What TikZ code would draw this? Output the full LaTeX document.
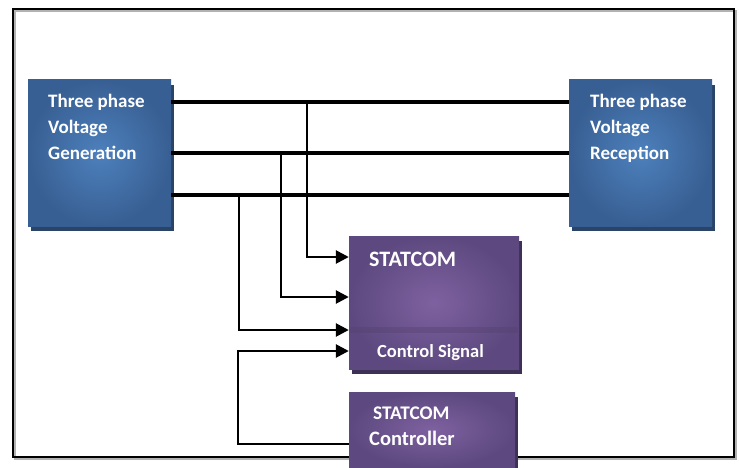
\documentclass[tikz,border=0pt]{standalone}
\usepackage{fontspec}
\setmainfont{Carlito}
\usetikzlibrary{arrows.meta,shadows}
\definecolor{bOut}{HTML}{385F93}
\definecolor{bIn}{HTML}{4D80BC}
\definecolor{bShadow}{HTML}{2A4468}
\definecolor{pOut}{HTML}{5D497F}
\definecolor{pIn}{HTML}{7E61A0}
\definecolor{pShadow}{HTML}{3E3158}
\definecolor{pBand}{HTML}{54416F}
\begin{document}
\begin{tikzpicture}[x=1pt,y=-1pt,
  bluebox/.style={rectangle, inner sep=0pt, minimum width=143pt, minimum height=146pt,
    shading=radial, inner color=bIn, outer color=bOut,
    general shadow={shadow xshift=3pt, shadow yshift=-5pt, fill=bShadow}},
  purplebox/.style={rectangle, inner sep=0pt,
    shading=radial, inner color=pIn, outer color=pOut,
    general shadow={shadow xshift=3pt, shadow yshift=-5pt, fill=pShadow}},
  lbl/.style={anchor=base west, inner sep=0pt, text=white, font=\bfseries\fontsize{19}{21}\selectfont},
  wire/.style={line width=3.6pt, black},
  tap/.style={line width=2.6pt, black, -{Triangle[length=13pt,width=13pt]}},
]
\useasboundingbox (0,0) rectangle (739,468);
% outer frame
\draw[line width=1.2pt, gray!60] (15,11) rectangle (736,459);
\draw[line width=1.6pt, black] (13,9) rectangle (734,457);

% boxes
\node[bluebox] (gen) at (99.5,153) {};
\node[bluebox] (rec) at (640.5,153) {};
\node[purplebox, minimum width=170pt, minimum height=133pt] (stat) at (434,302.5) {};
\fill[pBand, opacity=0.4] (350,327) rectangle (518,333);
\node[purplebox, minimum width=166pt, minimum height=75pt] (ctrl) at (432,429.5) {};

% labels
\node[lbl] (g1) at (48,108) {Three phase};
\node[lbl] (g2) at (48,134) {Voltage};
\node[lbl] (g3) at (48,160) {Generation};
\node[lbl] (r1) at (590,108) {Three phase};
\node[lbl] (r2) at (590,134) {Voltage};
\node[lbl] (r3) at (590,160) {Reception};
\node[lbl, font=\bfseries\fontsize{22}{24}\selectfont] (s1) at (369,266) {STATCOM};
\node[lbl, font=\bfseries\fontsize{18.5}{20}\selectfont] (s2) at (377,357) {Control Signal};
\node[lbl, font=\bfseries\fontsize{19.3}{21}\selectfont] (c1) at (373,419) {STATCOM};
\node[lbl, font=\bfseries\fontsize{20.5}{22}\selectfont] (c2) at (369,445) {Controller};

% three phase lines
\draw[wire] ([yshift=51pt]gen.east) -- ([yshift=51pt]rec.west);
\draw[wire] (gen.east) -- (rec.west);
\draw[wire] ([yshift=-42pt]gen.east) -- ([yshift=-42pt]rec.west);

% taps
\coordinate (t1) at (307,102);
\coordinate (t2) at (281,153);
\coordinate (t3) at (239,195);
\coordinate (fb) at (238,351);
\draw[tap] (t1) |- ([yshift=45.5pt]stat.west);
\draw[tap] (t2) |- ([yshift=5.5pt]stat.west);
\draw[tap] (t3) |- ([yshift=-27.5pt]stat.west);
\draw[tap] ([yshift=-14.5pt]ctrl.west) -| (fb) -- ([yshift=-48.5pt]stat.west);
\end{tikzpicture}
\end{document}
